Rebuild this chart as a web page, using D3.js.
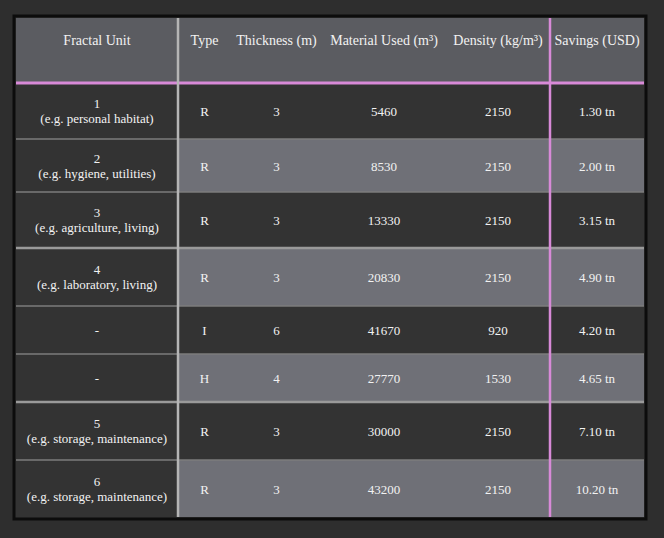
<!DOCTYPE html>
<html><head><meta charset="utf-8">
<script src="https://cdn.jsdelivr.net/npm/d3@7"></script>
<style>body{margin:0;background:#2e2e2e}svg{display:block}</style>
</head><body>
<script>
// table contents
const headers = ['Fractal Unit', 'Type', 'Thickness (m)', 'Material Used (m³)', 'Density (kg/m³)', 'Savings (USD)'];
const units = ['1', '2', '3', '4', '-', '-', '5', '6'];
const uses = ['(e.g. personal habitat)', '(e.g. hygiene, utilities)', '(e.g. agriculture, living)', '(e.g. laboratory, living)', '', '', '(e.g. storage, maintenance)', '(e.g. storage, maintenance)'];
const types = ['R', 'R', 'R', 'R', 'I', 'H', 'R', 'R'];
const thickness = [3, 3, 3, 3, 6, 4, 3, 3];
const material = [5460, 8530, 13330, 20830, 41670, 27770, 30000, 43200];
const density = [2150, 2150, 2150, 2150, 920, 1530, 2150, 2150];
const savings = ['1.30 tn', '2.00 tn', '3.15 tn', '4.90 tn', '4.20 tn', '4.65 tn', '7.10 tn', '10.20 tn'];

const W = 664, H = 538;
const svg = d3.select('body').append('svg').attr('width', W).attr('height', H);
svg.append('rect').attr('width', W).attr('height', H).attr('fill', '#2e2e2e');

const colEdges = [16, 178, 231, 322, 446, 550, 644];
const rowEdges = [18, 83, 139, 192, 248, 306, 354, 402, 460, 517];
const font = '"Liberation Serif", "DejaVu Serif", serif';

// outer frame
svg.append('rect').attr('x', 14).attr('y', 16).attr('width', 632).attr('height', 503)
    .attr('fill', '#333333').attr('stroke', '#0c0c0c').attr('stroke-width', 3);

// header
svg.append('rect').attr('x', 16).attr('y', 18).attr('width', 628).attr('height', 65).attr('fill', '#5b5c61');
svg.selectAll('.hd').data(headers).enter().append('text')
    .attr('x', (d, i) => (colEdges[i] + colEdges[i + 1]) / 2)
    .attr('y', 45).attr('text-anchor', 'middle')
    .attr('font-family', font).attr('font-size', 14).attr('fill', '#f2f2f2')
    .text(d => d);

// body rows
const rows = d3.range(units.length);
rows.forEach(i => {
    const y0 = rowEdges[i + 1], y1 = rowEdges[i + 2], cy = (y0 + y1) / 2;
    svg.append('rect').attr('x', 16).attr('y', y0).attr('width', 162).attr('height', y1 - y0).attr('fill', '#333333');
    svg.append('rect').attr('x', 178).attr('y', y0).attr('width', 466).attr('height', y1 - y0)
        .attr('fill', i % 2 ? '#6f7077' : '#333333');
    const cx0 = (colEdges[0] + colEdges[1]) / 2;
    if (uses[i]) {
        svg.append('text').attr('x', cx0).attr('y', cy - 3).attr('text-anchor', 'middle')
            .attr('font-family', font).attr('font-size', 13).attr('fill', '#f2f2f2').text(units[i]);
        svg.append('text').attr('x', cx0).attr('y', cy + 12).attr('text-anchor', 'middle')
            .attr('font-family', font).attr('font-size', 13).attr('fill', '#f2f2f2').text(uses[i]);
    } else {
        svg.append('text').attr('x', cx0).attr('y', cy + 5).attr('text-anchor', 'middle')
            .attr('font-family', font).attr('font-size', 13).attr('fill', '#f2f2f2').text(units[i]);
    }
    const vals = [types[i], thickness[i], material[i], density[i], savings[i]];
    vals.forEach((v, j) => {
        svg.append('text').attr('x', (colEdges[j + 1] + colEdges[j + 2]) / 2).attr('y', cy + 5)
            .attr('text-anchor', 'middle').attr('font-family', font).attr('font-size', 13)
            .attr('fill', '#f2f2f2').text(v);
    });
});

// row separators
rowEdges.slice(2, -1).forEach((y, k) => {
    const grp = (k + 2 === 4 || k + 2 === 7);
    svg.append('line').attr('x1', 16).attr('x2', 644).attr('y1', y).attr('y2', y)
        .attr('stroke', grp ? '#9a9a9a' : '#7d7d7d').attr('stroke-width', grp ? 2.5 : 1.5);
});
// header underline
svg.append('line').attr('x1', 16).attr('x2', 644).attr('y1', 83).attr('y2', 83)
    .attr('stroke', '#d88ad8').attr('stroke-width', 3);
// vertical rules
svg.append('line').attr('x1', 178).attr('x2', 178).attr('y1', 18).attr('y2', 517)
    .attr('stroke', '#b5b5b5').attr('stroke-width', 2.5);
svg.append('line').attr('x1', 550).attr('x2', 550).attr('y1', 18).attr('y2', 517)
    .attr('stroke', '#d88ad8').attr('stroke-width', 2.5);
</script>
</body></html>
